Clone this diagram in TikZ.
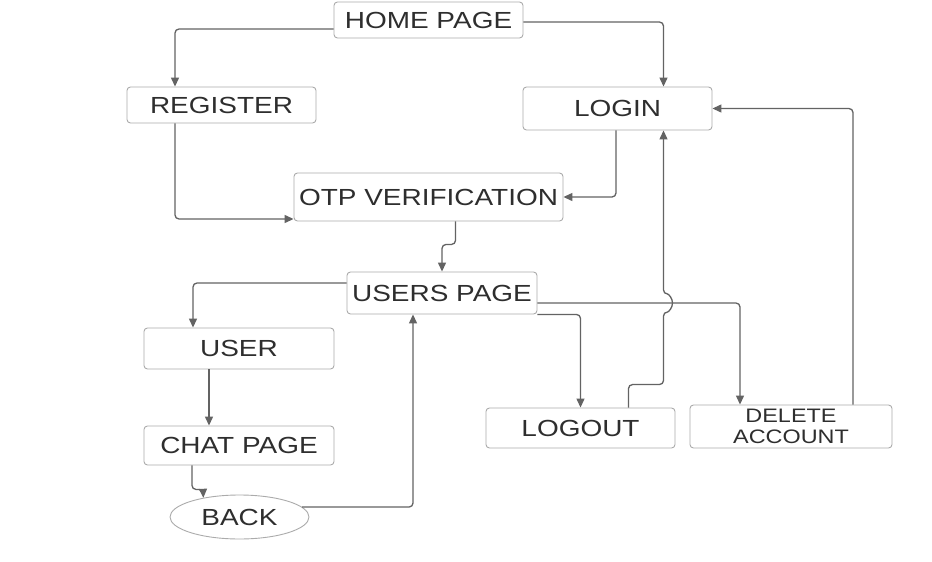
\documentclass[tikz,border=0pt]{standalone}
\usepackage{fontspec}
\usepackage{graphicx}
\setmainfont{Liberation Sans}
\usetikzlibrary{arrows.meta,calc,shapes.geometric}
\definecolor{boxline}{HTML}{ABABAB}
\definecolor{connline}{HTML}{636363}
\definecolor{txt}{HTML}{2E2E2E}
\newcommand{\lbl}[1]{\scalebox{1.2}[1]{#1}}
\begin{document}
\begin{tikzpicture}[x=1pt,y=-1pt,
  box/.style={draw=boxline, line width=0.9pt, rounded corners=3.5pt, inner sep=0pt,
    text=txt, font=\fontsize{23.3}{25}\selectfont},
  oval/.style={draw=boxline, line width=0.9pt, ellipse, inner sep=0pt,
    text=txt, font=\fontsize{23.3}{25}\selectfont},
  conn/.style={draw=connline, line width=1.3pt, rounded corners=4pt,
    -{Triangle[length=9pt,width=8pt]}}]
\path[fill=white, use as bounding box] (0,0) rectangle (932,562);

\node[box, minimum width=189pt, minimum height=36pt] (home) at (428.5,20) {\lbl{HOME PAGE}};
\node[box, minimum width=189pt, minimum height=36pt] (register) at (221.5,105) {\lbl{REGISTER}};
\node[box, minimum width=189pt, minimum height=43pt] (login) at (617.5,108.5) {\lbl{LOGIN}};
\node[box, minimum width=269pt, minimum height=48pt] (otp) at (428.5,197) {\lbl{OTP VERIFICATION}};
\node[box, minimum width=190pt, minimum height=42pt] (users) at (442,293) {\lbl{USERS PAGE}};
\node[box, minimum width=190pt, minimum height=41pt] (user) at (239,348.5) {\lbl{USER}};
\node[box, minimum width=190pt, minimum height=39pt] (chat) at (239,445.5) {\lbl{CHAT PAGE}};
\node[oval, minimum width=139pt, minimum height=44pt] (back) at (239.5,517) {\lbl{BACK}};
\node[box, minimum width=189pt, minimum height=40pt] (logout) at (580.5,428) {\lbl{LOGOUT}};
\node[box, minimum width=202pt, minimum height=43pt, align=center,
  font=\fontsize{19.5}{20.5}\selectfont] (delete) at (791,426.5) {\lbl{DELETE}\\\lbl{ACCOUNT}};

\coordinate (lx) at ([xshift=46pt]login.south);
\coordinate (uy) at ([yshift=-10pt]users.east);
\coordinate (hop) at (lx |- uy);

\draw[conn] ([yshift=-9pt]home.west) -| ([xshift=-46.5pt]register.north);
\draw[conn] ([yshift=-2pt]home.east) -| ([xshift=46pt]login.north);
\draw[conn] ([xshift=-46.5pt]register.south) |- ([yshift=-22pt]otp.west);
\draw[conn] ([xshift=-1.5pt]login.south) |- (otp.east);
\draw[conn] ([xshift=27pt]otp.south) -- ++(0,-23pt) -| (users.north);
\draw[conn] ([yshift=10pt]users.west) -| ([xshift=-46pt]user.north);
\draw[conn] ([xshift=-30pt]user.south) -- ([xshift=-30pt]chat.north);
\draw[conn] ([xshift=-47pt]chat.south) -- ++(0,-24pt) -- ++(11pt,0) -- (back.152);
\draw[conn] (back.9) -| ([xshift=-29pt]users.south);
\draw[conn] (uy) -| ([xshift=-51pt]delete.north);
\draw[conn] (users.south east) -| (logout.north);
\draw[conn] ([xshift=48pt]logout.north) -- ++(0,23pt) -| ([yshift=-9pt]hop)
  arc[start angle=-90, end angle=90, radius=9pt] -- (lx);
\draw[conn] ([xshift=62pt]delete.north) |- (login.east);
\end{tikzpicture}
\end{document}
